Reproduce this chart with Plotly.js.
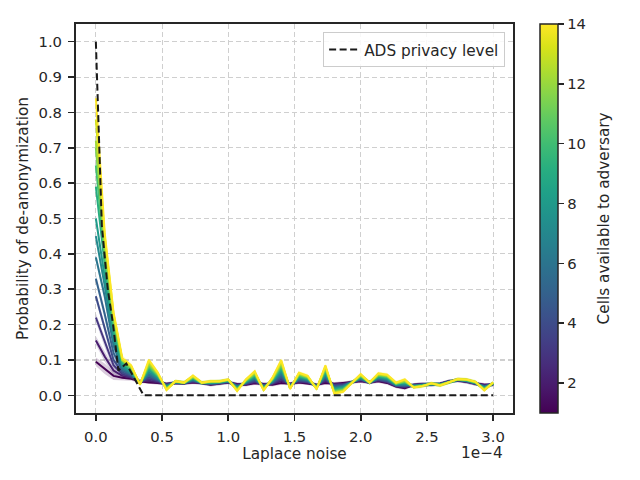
<!DOCTYPE html>
<html>
<head>
<meta charset="utf-8">
<script src="https://cdn.plot.ly/plotly-3.0.1.min.js"></script>
<style>
  body { margin: 0; background: #fff; }
  #chart { width: 640px; height: 480px; }
</style>
</head>
<body>
<div id="chart"></div>
<script>
// Laplace noise scale (axis shown in units of 1e-4)
var noise = [0, 0.0667, 0.1333, 0.2, 0.2667, 0.3333, 0.4, 0.4667, 0.5333, 0.6,
  0.6667, 0.7333, 0.8, 0.8667, 0.9333, 1.0, 1.0667, 1.1333, 1.2, 1.2667,
  1.3333, 1.4, 1.4667, 1.5333, 1.6, 1.6667, 1.7333, 1.8, 1.8667, 1.9333,
  2.0, 2.0667, 2.1333, 2.2, 2.2667, 2.3333, 2.4, 2.4667, 2.5333, 2.6,
  2.6667, 2.7333, 2.8, 2.8667, 2.9333, 3.0];

var cells = [1, 2, 3, 4, 5, 6, 7, 8, 9, 10, 11, 12, 13, 14];

// probability of de-anonymization, one array per number of cells
var prob1 = [0.095, 0.075, 0.055, 0.050, 0.047, 0.040, 0.036, 0.035, 0.033, 0.035,
  0.034, 0.036, 0.035, 0.030, 0.033, 0.036, 0.032, 0.030, 0.034, 0.032,
  0.030, 0.035, 0.033, 0.036, 0.034, 0.030, 0.035, 0.033, 0.035, 0.038,
  0.040, 0.036, 0.040, 0.035, 0.025, 0.020, 0.030, 0.032, 0.030, 0.033,
  0.040, 0.042, 0.038, 0.032, 0.030, 0.030];
var prob2 = [0.155, 0.110, 0.070, 0.055, 0.050, 0.039, 0.041, 0.037, 0.032, 0.035,
  0.034, 0.038, 0.035, 0.031, 0.034, 0.037, 0.030, 0.031, 0.037, 0.031,
  0.032, 0.040, 0.032, 0.038, 0.036, 0.029, 0.039, 0.031, 0.033, 0.038,
  0.042, 0.036, 0.042, 0.037, 0.026, 0.022, 0.029, 0.032, 0.030, 0.033,
  0.040, 0.042, 0.039, 0.032, 0.029, 0.030];
var prob3 = [0.220, 0.150, 0.085, 0.060, 0.052, 0.039, 0.046, 0.040, 0.030, 0.036,
  0.034, 0.039, 0.035, 0.032, 0.034, 0.037, 0.029, 0.032, 0.039, 0.029,
  0.033, 0.045, 0.031, 0.040, 0.037, 0.028, 0.043, 0.029, 0.031, 0.038,
  0.043, 0.036, 0.043, 0.038, 0.027, 0.024, 0.029, 0.031, 0.031, 0.032,
  0.039, 0.043, 0.039, 0.033, 0.028, 0.031];
var prob4 = [0.280, 0.190, 0.100, 0.065, 0.055, 0.038, 0.051, 0.042, 0.029, 0.036,
  0.034, 0.041, 0.035, 0.032, 0.035, 0.038, 0.027, 0.033, 0.042, 0.028,
  0.035, 0.050, 0.030, 0.042, 0.039, 0.027, 0.047, 0.027, 0.029, 0.037,
  0.045, 0.036, 0.045, 0.040, 0.028, 0.026, 0.028, 0.031, 0.031, 0.032,
  0.039, 0.043, 0.040, 0.033, 0.026, 0.031];
var prob5 = [0.330, 0.230, 0.120, 0.070, 0.058, 0.037, 0.056, 0.044, 0.027, 0.037,
  0.035, 0.042, 0.035, 0.033, 0.035, 0.039, 0.026, 0.035, 0.045, 0.026,
  0.036, 0.055, 0.028, 0.045, 0.041, 0.026, 0.051, 0.024, 0.027, 0.037,
  0.046, 0.036, 0.047, 0.042, 0.028, 0.028, 0.028, 0.030, 0.031, 0.031,
  0.039, 0.043, 0.040, 0.034, 0.025, 0.032];
var prob6 = [0.390, 0.280, 0.140, 0.075, 0.060, 0.036, 0.060, 0.046, 0.026, 0.037,
  0.035, 0.044, 0.035, 0.034, 0.036, 0.039, 0.024, 0.036, 0.047, 0.025,
  0.038, 0.060, 0.027, 0.047, 0.042, 0.025, 0.054, 0.022, 0.026, 0.037,
  0.048, 0.036, 0.048, 0.044, 0.029, 0.030, 0.027, 0.030, 0.032, 0.031,
  0.038, 0.044, 0.041, 0.034, 0.024, 0.032];
var prob7 = [0.450, 0.310, 0.155, 0.080, 0.063, 0.035, 0.065, 0.049, 0.025, 0.037,
  0.035, 0.045, 0.035, 0.035, 0.036, 0.040, 0.023, 0.037, 0.050, 0.024,
  0.039, 0.065, 0.026, 0.049, 0.044, 0.024, 0.058, 0.020, 0.024, 0.037,
  0.049, 0.036, 0.050, 0.046, 0.030, 0.032, 0.026, 0.029, 0.032, 0.031,
  0.038, 0.044, 0.041, 0.035, 0.023, 0.033];
var prob8 = [0.500, 0.340, 0.170, 0.085, 0.066, 0.035, 0.071, 0.051, 0.023, 0.038,
  0.035, 0.047, 0.035, 0.035, 0.037, 0.041, 0.021, 0.038, 0.052, 0.022,
  0.041, 0.070, 0.025, 0.051, 0.045, 0.023, 0.062, 0.018, 0.022, 0.036,
  0.051, 0.036, 0.052, 0.047, 0.031, 0.034, 0.026, 0.029, 0.032, 0.030,
  0.038, 0.044, 0.042, 0.035, 0.021, 0.033];
var prob9 = [0.590, 0.370, 0.185, 0.090, 0.070, 0.034, 0.076, 0.054, 0.022, 0.038,
  0.035, 0.048, 0.035, 0.036, 0.037, 0.042, 0.020, 0.039, 0.055, 0.021,
  0.042, 0.075, 0.024, 0.053, 0.047, 0.022, 0.066, 0.016, 0.020, 0.036,
  0.052, 0.036, 0.054, 0.049, 0.032, 0.036, 0.025, 0.028, 0.032, 0.030,
  0.038, 0.044, 0.042, 0.036, 0.020, 0.034];
var prob10 = [0.650, 0.390, 0.200, 0.095, 0.073, 0.033, 0.080, 0.056, 0.021, 0.038,
  0.035, 0.050, 0.035, 0.037, 0.038, 0.042, 0.018, 0.040, 0.057, 0.020,
  0.044, 0.080, 0.023, 0.055, 0.048, 0.021, 0.070, 0.014, 0.018, 0.036,
  0.054, 0.036, 0.055, 0.051, 0.033, 0.037, 0.024, 0.028, 0.033, 0.030,
  0.037, 0.045, 0.043, 0.036, 0.019, 0.034];
var prob11 = [0.700, 0.410, 0.210, 0.098, 0.076, 0.032, 0.085, 0.058, 0.019, 0.039,
  0.036, 0.051, 0.035, 0.038, 0.038, 0.043, 0.017, 0.042, 0.060, 0.018,
  0.045, 0.085, 0.021, 0.058, 0.050, 0.020, 0.074, 0.011, 0.016, 0.036,
  0.055, 0.036, 0.057, 0.053, 0.033, 0.039, 0.024, 0.027, 0.033, 0.029,
  0.037, 0.045, 0.043, 0.037, 0.018, 0.035];
var prob12 = [0.720, 0.430, 0.220, 0.100, 0.080, 0.032, 0.090, 0.061, 0.018, 0.039,
  0.036, 0.053, 0.035, 0.039, 0.039, 0.044, 0.015, 0.043, 0.063, 0.017,
  0.047, 0.090, 0.020, 0.060, 0.052, 0.019, 0.078, 0.009, 0.014, 0.035,
  0.057, 0.036, 0.059, 0.055, 0.034, 0.041, 0.023, 0.027, 0.033, 0.029,
  0.037, 0.045, 0.044, 0.037, 0.016, 0.035];
var prob13 = [0.780, 0.450, 0.230, 0.100, 0.082, 0.031, 0.095, 0.063, 0.016, 0.040,
  0.036, 0.054, 0.036, 0.039, 0.039, 0.044, 0.014, 0.044, 0.065, 0.015,
  0.048, 0.095, 0.019, 0.062, 0.053, 0.018, 0.081, 0.007, 0.012, 0.035,
  0.058, 0.036, 0.060, 0.056, 0.035, 0.043, 0.023, 0.026, 0.034, 0.028,
  0.036, 0.046, 0.044, 0.038, 0.015, 0.036];
var prob14 = [0.840, 0.460, 0.235, 0.105, 0.085, 0.030, 0.100, 0.065, 0.015, 0.040,
  0.036, 0.056, 0.036, 0.040, 0.040, 0.045, 0.012, 0.045, 0.068, 0.014,
  0.050, 0.100, 0.018, 0.064, 0.055, 0.017, 0.085, 0.005, 0.010, 0.035,
  0.060, 0.036, 0.062, 0.058, 0.036, 0.045, 0.022, 0.026, 0.034, 0.028,
  0.036, 0.046, 0.045, 0.038, 0.014, 0.036];

// half width of the shaded spread around each curve
var spread = [0.012, 0.015, 0.012, 0.008, 0.006, 0.005, 0.005, 0.005, 0.005, 0.005,
  0.005, 0.005, 0.005, 0.005, 0.005, 0.005, 0.005, 0.005, 0.005, 0.005,
  0.005, 0.005, 0.005, 0.005, 0.005, 0.005, 0.005, 0.005, 0.005, 0.005,
  0.005, 0.005, 0.005, 0.005, 0.005, 0.005, 0.005, 0.005, 0.005, 0.005,
  0.005, 0.005, 0.005, 0.005, 0.005, 0.005];

// ADS privacy level
var adsNoise = [0, 0.023, 0.045, 0.09, 0.13, 0.17, 0.23, 0.36, 3.0];
var adsLevel = [1.0, 0.70, 0.48, 0.30, 0.20, 0.07, 0.09, 0.0, 0.0];

var xTicks = [0, 0.5, 1.0, 1.5, 2.0, 2.5, 3.0];
var yTicks = [0, 0.1, 0.2, 0.3, 0.4, 0.5, 0.6, 0.7, 0.8, 0.9, 1.0];
var cbTicks = [2, 4, 6, 8, 10, 12, 14];

var probs = [prob1, prob2, prob3, prob4, prob5, prob6, prob7,
  prob8, prob9, prob10, prob11, prob12, prob13, prob14];

// viridis stops (same as plotly's 'Viridis')
var viridis = ['#440154', '#48186a', '#472d7b', '#424086', '#3b528b', '#33638d',
  '#2c728e', '#26828e', '#21918c', '#1fa088', '#28ae80', '#3fbc73', '#5ec962',
  '#84d44b', '#addc30', '#d8e219', '#fde725'];

function hexRgb(h) {
  return [parseInt(h.substr(1, 2), 16), parseInt(h.substr(3, 2), 16), parseInt(h.substr(5, 2), 16)];
}
function viridisAt(t, alpha) {
  var n = viridis.length - 1;
  var pos = Math.max(0, Math.min(1, t)) * n;
  var i = Math.min(Math.floor(pos), n - 1);
  var f = pos - i;
  var a = hexRgb(viridis[i]), b = hexRgb(viridis[i + 1]);
  var c = [0, 1, 2].map(function (j) { return Math.round(a[j] + (b[j] - a[j]) * f); });
  return 'rgba(' + c[0] + ',' + c[1] + ',' + c[2] + ',' + alpha + ')';
}

var cMin = 1, cMax = 14;
var font = {family: 'DejaVu Sans, sans-serif', size: 15.3, color: '#262626'};
var tickFont = {family: 'DejaVu Sans, sans-serif', size: 14.8, color: '#262626'};
var data = [];

// shaded bands
cells.forEach(function (c, i) {
  var y = probs[i];
  var up = y.map(function (v, k) { return v + spread[k]; });
  var lo = y.map(function (v, k) { return v - spread[k]; });
  data.push({
    x: noise.concat(noise.slice().reverse()),
    y: up.concat(lo.slice().reverse()),
    type: 'scatter', mode: 'lines', fill: 'toself',
    fillcolor: viridisAt((c - cMin) / (cMax - cMin), 0.2),
    line: {width: 0}, hoverinfo: 'skip', showlegend: false
  });
});

// mean curves
cells.forEach(function (c, i) {
  data.push({
    x: noise, y: probs[i],
    type: 'scatter', mode: 'lines',
    line: {color: viridisAt((c - cMin) / (cMax - cMin), 1), width: 2},
    name: c + ' cells', showlegend: false
  });
});

data.push({
  x: adsNoise, y: adsLevel,
  type: 'scatter', mode: 'lines',
  line: {color: '#1a1a1a', width: 2, dash: '7px,3.5px'},
  name: 'ADS privacy level'
});

// colour bar only
data.push({
  x: [-5], y: [-5], type: 'scatter', mode: 'markers',
  showlegend: false, hoverinfo: 'skip',
  marker: {
    size: 1, color: [1], cmin: cMin, cmax: cMax, colorscale: 'Viridis', showscale: true,
    colorbar: {
      thickness: 18, thicknessmode: 'pixels', len: 1, lenmode: 'fraction',
      x: 1.062, xanchor: 'left', y: 0.5, yanchor: 'middle', xpad: 0, ypad: 0,
      outlinewidth: 1.5, outlinecolor: '#262626',
      tickvals: cbTicks, ticks: 'outside', ticklen: 6, tickwidth: 1.6, tickcolor: '#262626',
      tickprefix: '\u00a0\u00a0', tickfont: tickFont
    }
  }
});

var axisBase = {
  ticks: 'outside', ticklen: 6, tickwidth: 1.6, tickcolor: '#262626',
  showline: true, linecolor: '#262626', linewidth: 2, mirror: true,
  showgrid: true, gridcolor: '#cfcfcf', gridwidth: 1.1, griddash: '5px,3px',
  zeroline: false, tickfont: tickFont, tickformat: '.1f', ticklabelstandoff: 3
};

var layout = {
  width: 640, height: 480,
  margin: {l: 76, r: 127, t: 24, b: 67},
  paper_bgcolor: '#ffffff', plot_bgcolor: '#ffffff',
  font: font,
  xaxis: Object.assign({}, axisBase, {
    range: [-0.15, 3.15], tickvals: xTicks,
    title: {text: 'Laplace noise', font: font, standoff: 4}
  }),
  yaxis: Object.assign({}, axisBase, {
    range: [-0.05, 1.05], tickvals: yTicks,
    title: {text: 'Probability of de-anonymization', font: font, standoff: 6}
  }),
  legend: {
    x: 0.982, xanchor: 'right', y: 0.979, yanchor: 'top',
    bgcolor: 'rgba(255,255,255,0.85)', bordercolor: '#cccccc', borderwidth: 1,
    font: font
  },
  annotations: [{
    text: '1e\u22124', xref: 'paper', yref: 'paper',
    x: 0.982, xanchor: 'right', y: -0.103, yanchor: 'middle',
    showarrow: false, font: font
  }, {
    text: 'Cells available to adversary', xref: 'paper', yref: 'paper',
    x: 1.208, xanchor: 'center', y: 0.5, yanchor: 'middle', textangle: -90,
    showarrow: false, font: font
  }]
};

Plotly.newPlot('chart', data, layout, {staticPlot: true, displayModeBar: false});
</script>
</body>
</html>
